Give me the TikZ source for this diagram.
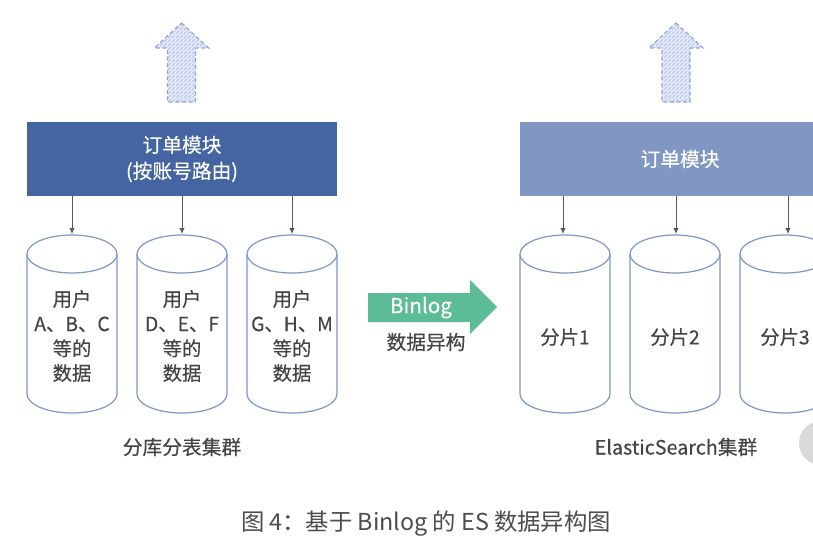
\documentclass[tikz,border=0pt]{standalone}
\usepackage{fontspec}
\setmainfont{Noto Sans CJK SC}
\newfontfamily\medfont[FakeBold=0.35]{Noto Sans CJK SC}
\usetikzlibrary{arrows.meta,patterns}
\definecolor{boxdark}{HTML}{4465A2}
\definecolor{boxlight}{HTML}{8097C3}
\definecolor{cylline}{HTML}{7E96CA}
\definecolor{txt}{HTML}{444444}
\definecolor{grn}{HTML}{5DBC98}
\definecolor{uparrow}{HTML}{8EA4D6}
\definecolor{upfill}{HTML}{E2E8F5}
\tikzset{
  modbox/.style={draw=none,minimum width=310*0.75pt,minimum height=74*0.75pt,inner sep=0pt,text=white,font=\medfont\fontsize{14.8}{19.5}\selectfont,align=center},
  cyl/.style={draw=cylline,line width=0.9pt,fill=white},
  cyltext/.style={text=txt,font=\medfont\fontsize{14.5}{18.5}\selectfont,align=center,inner sep=0pt},
  down/.style={draw=black!65,line width=0.6pt,-{Latex[length=4.5pt,width=4pt]}},
  uparr/.style={draw=uparrow,line width=0.9pt,dash pattern=on 3pt off 2pt,fill=upfill,postaction={pattern=north east lines,pattern color=uparrow!80}},
  lbl/.style={text=txt,font=\medfont\fontsize{14.8}{17}\selectfont,inner sep=0pt}
}
\begin{document}
\begin{tikzpicture}[x=0.75pt,y=-0.75pt]
\useasboundingbox (0,0) rectangle (813,542);
% up arrows
\foreach \cx/\nm in {181.5/upL,676/upR}{
  \draw[uparr] (\cx,23) -- (\cx+27,48) -- (\cx+14,48) -- (\cx+14,102) -- (\cx-14,102) -- (\cx-14,48) -- (\cx-27,48) -- cycle;
}
% module boxes
\node[modbox,fill=boxdark] (modL) at (182,159) {订单模块\\(按账号路由)};
\node[modbox,fill=boxlight,minimum width=320*0.75pt] (modR) at (680,159) {订单模块};
% cylinders
\foreach \cx/\nm/\ax in {72/c1/72,182/c2/182,292/c3/292,565/d1/563,675/d2/676,785/d3/788}{
  \draw[cyl] (\cx-45,254) -- (\cx-45,394) arc[start angle=180,end angle=0,x radius=45,y radius=19] -- (\cx+45,254);
  \draw[cyl] (\cx,254) ellipse[x radius=45,y radius=19];
  \coordinate (\nm top) at (\ax,234);
}
\node[cyltext] (t1) at (72,336) {用户\\A、B、C\\等的\\数据};
\node[cyltext] (t2) at (182,336) {用户\\D、E、F\\等的\\数据};
\node[cyltext] (t3) at (292,336) {用户\\G、H、M\\等的\\数据};
\node[cyltext] (u1) at (565,337) {分片1};
\node[cyltext] (u2) at (675,337) {分片2};
\node[cyltext] (u3) at (785,337) {分片3};
% down connectors
\foreach \nm in {c1,c2,c3}{
  \draw[down] (modL.south -| \nm top) -- (\nm top);
}
\foreach \nm in {d1,d2,d3}{
  \draw[down] (modR.south -| \nm top) -- (\nm top);
}
% green arrow
\fill[grn] (368,293) -- (470,293) -- (470,280) -- (497,307) -- (470,334) -- (470,322) -- (368,322) -- cycle;
\node[text=white,font=\medfont\fontsize{15.5}{18}\selectfont,inner sep=0pt] (bin) at (421,307.5) {Binlog};
\node[lbl] (het) at (426,342) {数据异构};
% labels
\node[lbl] (labL) at (182,447) {分库分表集群};
\node[lbl] (labR) at (676,447) {ElasticSearch集群};
% gray circle
\fill[black!15] (821,443) circle[radius=22];
% caption
\node[text=black!70,font=\fontsize{17.5}{20}\selectfont,inner sep=0pt] (cap) at (426,524) {图 4：基于 Binlog 的 ES 数据异构图};
\end{tikzpicture}
\end{document}
